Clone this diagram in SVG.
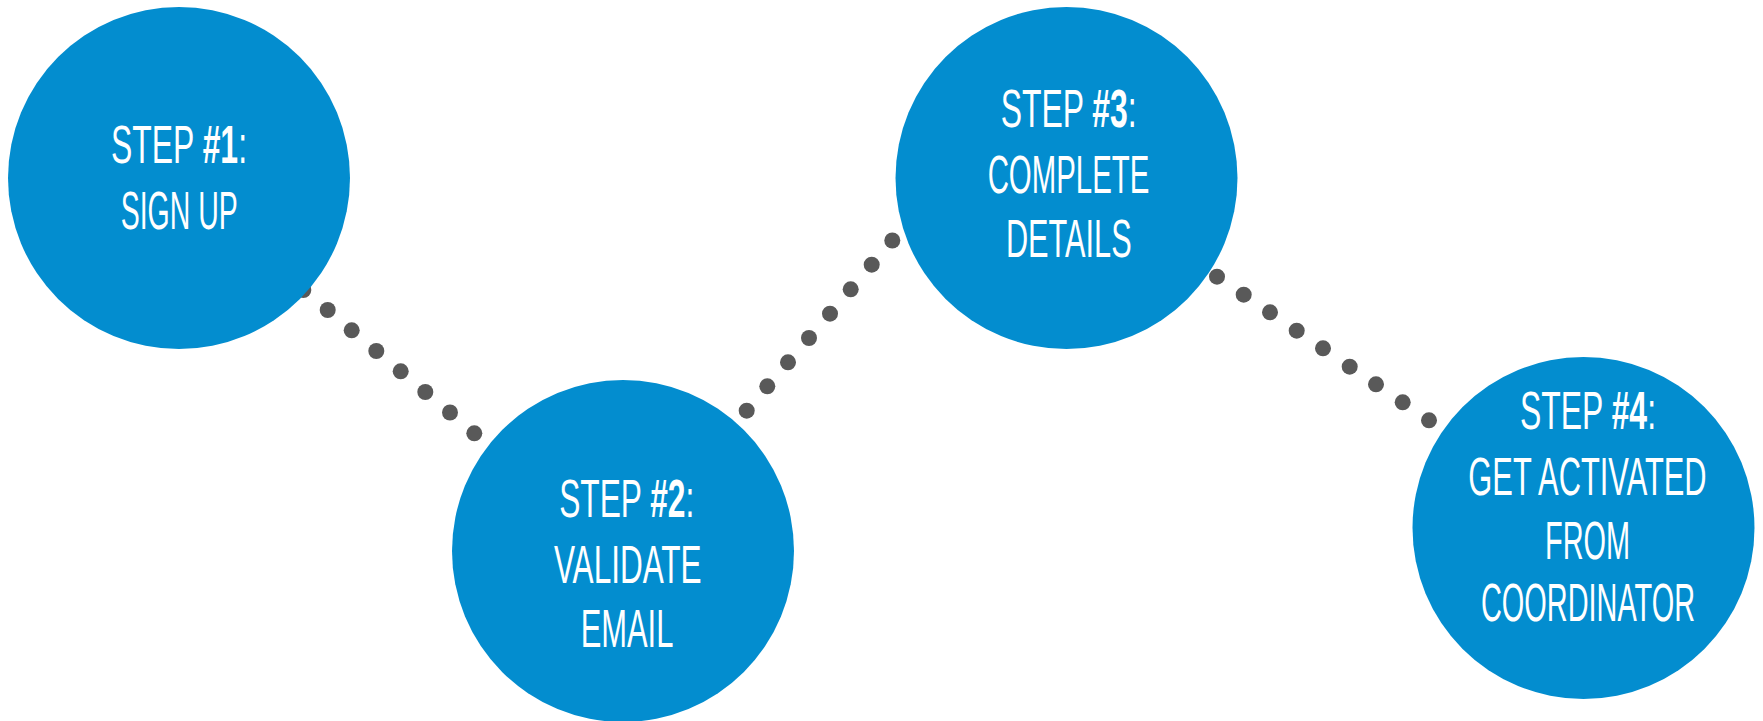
<svg xmlns="http://www.w3.org/2000/svg" width="1763" height="721" viewBox="0 0 1763 721">
<style>
.node{fill:#038dcf}
.dot{fill:#595959}
.lbl{fill:#ffffff;font-family:"Liberation Sans Narrow","Liberation Sans","DejaVu Sans Condensed",sans-serif;font-size:54px;text-anchor:middle}
.b{font-weight:bold}
</style>
<rect width="1763" height="721" fill="#ffffff"/>
<g id="connectors">
<g id="c1-2">
<circle class="dot" cx="279" cy="269.5" r="8"/>
<circle class="dot" cx="303.3" cy="290" r="8"/>
<circle class="dot" cx="327.7" cy="310" r="8"/>
<circle class="dot" cx="351.7" cy="330.3" r="8"/>
<circle class="dot" cx="376.3" cy="351" r="8"/>
<circle class="dot" cx="400.7" cy="371.3" r="8"/>
<circle class="dot" cx="425.3" cy="392" r="8"/>
<circle class="dot" cx="450" cy="412.5" r="8"/>
<circle class="dot" cx="474.3" cy="433.3" r="8"/>
</g>
<g id="c2-3">
<circle class="dot" cx="746.7" cy="410.7" r="8"/>
<circle class="dot" cx="767.3" cy="386.3" r="8"/>
<circle class="dot" cx="788" cy="362.3" r="8"/>
<circle class="dot" cx="809" cy="338" r="8"/>
<circle class="dot" cx="830" cy="313.7" r="8"/>
<circle class="dot" cx="850.7" cy="289.3" r="8"/>
<circle class="dot" cx="871.7" cy="264.7" r="8"/>
<circle class="dot" cx="892.3" cy="240.5" r="8"/>
</g>
<g id="c3-4">
<circle class="dot" cx="1217" cy="276.7" r="8"/>
<circle class="dot" cx="1243.7" cy="294.7" r="8"/>
<circle class="dot" cx="1270" cy="312.3" r="8"/>
<circle class="dot" cx="1296.7" cy="330.7" r="8"/>
<circle class="dot" cx="1323" cy="348.3" r="8"/>
<circle class="dot" cx="1349.7" cy="366.7" r="8"/>
<circle class="dot" cx="1376" cy="384.3" r="8"/>
<circle class="dot" cx="1402.7" cy="402.3" r="8"/>
<circle class="dot" cx="1429" cy="420.3" r="8"/>
</g>
</g>
<g id="step1">
<circle class="node" cx="179" cy="178" r="171"/>
<text class="lbl" x="179" y="163.3" textLength="136" lengthAdjust="spacingAndGlyphs">STEP <tspan class="b">#1</tspan>:</text>
<text class="lbl" x="179.2" y="229.3" textLength="117" lengthAdjust="spacingAndGlyphs">SIGN UP</text>
</g>
<g id="step2">
<circle class="node" cx="623" cy="551" r="171"/>
<text class="lbl" x="626.7" y="516.7" textLength="135" lengthAdjust="spacingAndGlyphs">STEP <tspan class="b">#2</tspan>:</text>
<text class="lbl" x="627.8" y="583.3" textLength="147.7" lengthAdjust="spacingAndGlyphs">VALIDATE</text>
<text class="lbl" x="627" y="647.3" textLength="92.7" lengthAdjust="spacingAndGlyphs">EMAIL</text>
</g>
<g id="step3">
<circle class="node" cx="1066.5" cy="178" r="171"/>
<text class="lbl" x="1068.7" y="126.7" textLength="136" lengthAdjust="spacingAndGlyphs">STEP <tspan class="b">#3</tspan>:</text>
<text class="lbl" x="1068.5" y="193.3" textLength="161.7" lengthAdjust="spacingAndGlyphs">COMPLETE</text>
<text class="lbl" x="1068.8" y="257.3" textLength="125.7" lengthAdjust="spacingAndGlyphs">DETAILS</text>
</g>
<g id="step4">
<circle class="node" cx="1583.5" cy="528" r="171"/>
<text class="lbl" x="1588" y="428.7" textLength="136" lengthAdjust="spacingAndGlyphs">STEP <tspan class="b">#4</tspan>:</text>
<text class="lbl" x="1587.5" y="495.3" textLength="238.3" lengthAdjust="spacingAndGlyphs">GET ACTIVATED</text>
<text class="lbl" x="1587.5" y="559.3" textLength="85" lengthAdjust="spacingAndGlyphs">FROM</text>
<text class="lbl" x="1588" y="621" textLength="214" lengthAdjust="spacingAndGlyphs">COORDINATOR</text>
</g>
</svg>
